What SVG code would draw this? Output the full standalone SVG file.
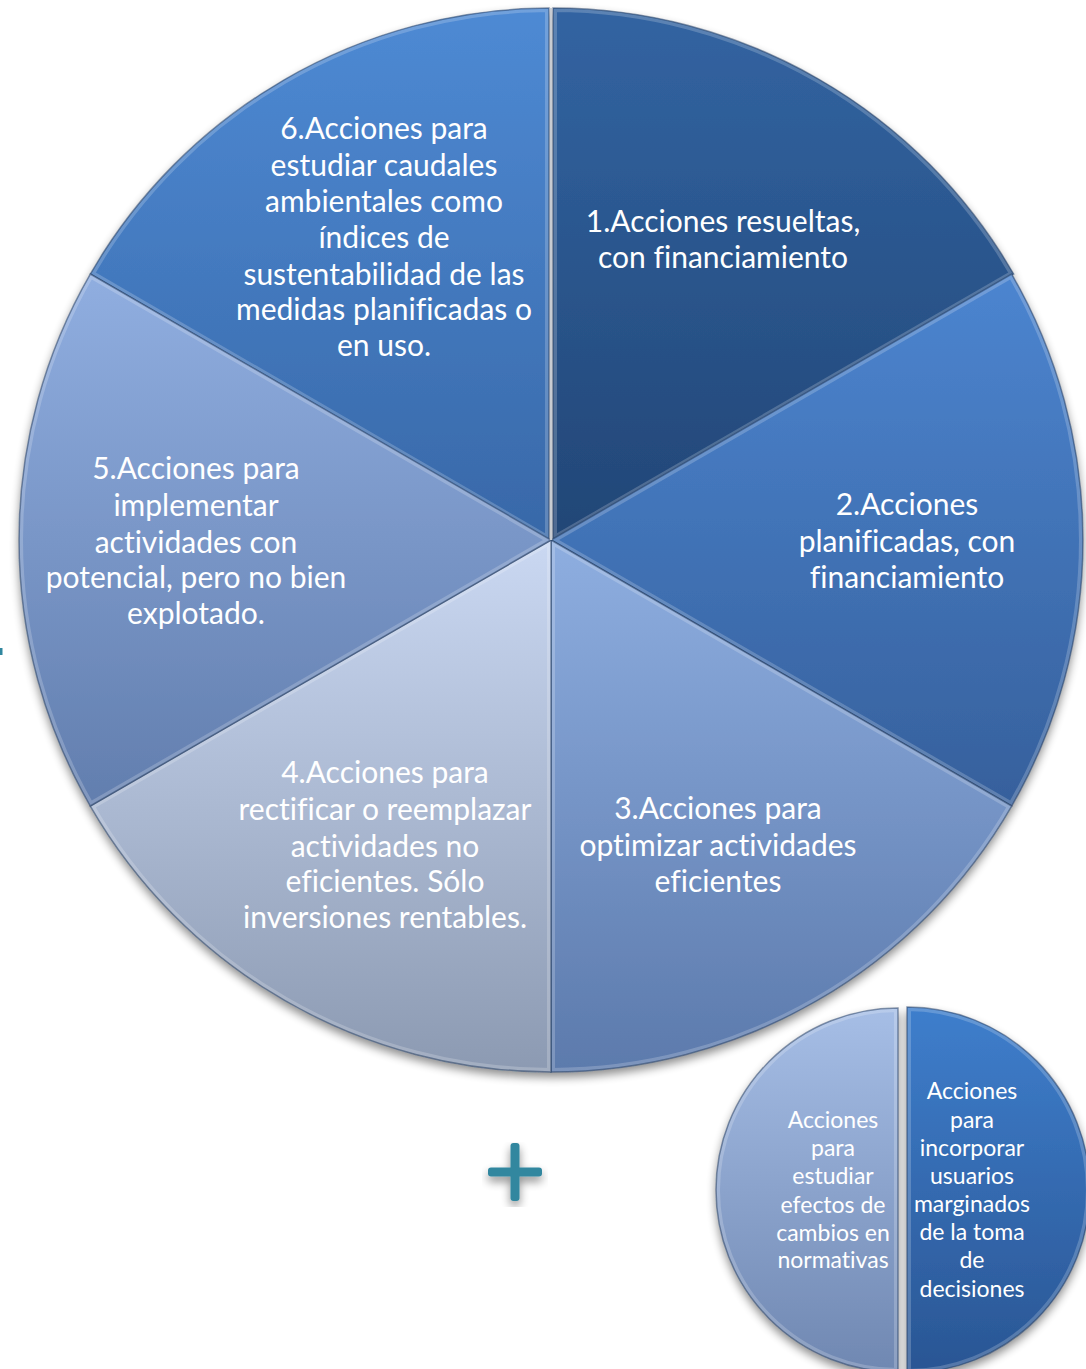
<svg xmlns="http://www.w3.org/2000/svg" width="1086" height="1369" viewBox="0 0 1086 1369">
<style>
.t{font-family:Lato,"Open Sans","Liberation Sans",sans-serif;fill:#ffffff;text-anchor:middle;font-size:30px;font-variant-ligatures:none;font-feature-settings:"liga" 0}
.s{font-family:Lato,"Open Sans","Liberation Sans",sans-serif;fill:#ffffff;text-anchor:middle;font-size:23px;font-variant-ligatures:none;font-feature-settings:"liga" 0}
.bev{fill:none;stroke:#ffffff;stroke-opacity:0.2;stroke-width:8}
.edge{fill:none;stroke:#1c355c;stroke-opacity:0.5;stroke-width:1.5}
</style>
<defs>
<filter id="sh" x="-10%" y="-10%" width="120%" height="120%">
<feGaussianBlur in="SourceAlpha" stdDeviation="5"/>
<feOffset dx="0" dy="5" result="b"/>
<feComponentTransfer><feFuncA type="linear" slope="0.45"/></feComponentTransfer>
<feMerge><feMergeNode/><feMergeNode in="SourceGraphic"/></feMerge>
</filter>
<linearGradient id="g1" gradientUnits="userSpaceOnUse" x1="0" y1="8" x2="0" y2="540"><stop offset="0" stop-color="#3264a2"/><stop offset="1" stop-color="#224676"/></linearGradient>
<linearGradient id="g2" gradientUnits="userSpaceOnUse" x1="0" y1="274" x2="0" y2="806"><stop offset="0" stop-color="#4c85d0"/><stop offset="1" stop-color="#36609c"/></linearGradient>
<linearGradient id="g3" gradientUnits="userSpaceOnUse" x1="0" y1="540" x2="0" y2="1072"><stop offset="0" stop-color="#8eaee0"/><stop offset="1" stop-color="#5c7aac"/></linearGradient>
<linearGradient id="g4" gradientUnits="userSpaceOnUse" x1="0" y1="540" x2="0" y2="1072"><stop offset="0" stop-color="#cad8f2"/><stop offset="1" stop-color="#8c9ab2"/></linearGradient>
<linearGradient id="g5" gradientUnits="userSpaceOnUse" x1="0" y1="274" x2="0" y2="806"><stop offset="0" stop-color="#90aee0"/><stop offset="1" stop-color="#627eae"/></linearGradient>
<linearGradient id="g6" gradientUnits="userSpaceOnUse" x1="0" y1="8" x2="0" y2="540"><stop offset="0" stop-color="#4e8ad4"/><stop offset="1" stop-color="#3868a8"/></linearGradient>
<linearGradient id="gL" gradientUnits="userSpaceOnUse" x1="0" y1="1008" x2="0" y2="1369"><stop offset="0" stop-color="#a6bee6"/><stop offset="1" stop-color="#7088b2"/></linearGradient>
<linearGradient id="gR" gradientUnits="userSpaceOnUse" x1="0" y1="1008" x2="0" y2="1369"><stop offset="0" stop-color="#3e7ecc"/><stop offset="1" stop-color="#2a5694"/></linearGradient>
<path id="p1" d="M553,540 L553,8 A532,532 0 0 1 1013.7,274 Z"/>
<path id="p2" d="M551,540 L1011.7,274 A532,532 0 0 1 1011.7,806 Z"/>
<path id="p3" d="M551,540 L1011.7,806 A532,532 0 0 1 551,1072 Z"/>
<path id="p4" d="M551,540 L551,1072 A532,532 0 0 1 90.3,806 Z"/>
<path id="p5" d="M551,540 L90.3,806 A532,532 0 0 1 90.3,274 Z"/>
<path id="p6" d="M549,540 L90.3,274 A532,532 0 0 1 549,8 Z"/>
<path id="pL" d="M898,1008 A182,182 0 0 0 898,1372 Z"/>
<path id="pR" d="M907,1007 A183,183 0 0 1 907,1373 Z"/>
<clipPath id="c1"><use href="#p1"/></clipPath>
<clipPath id="c2"><use href="#p2"/></clipPath>
<clipPath id="c3"><use href="#p3"/></clipPath>
<clipPath id="c4"><use href="#p4"/></clipPath>
<clipPath id="c5"><use href="#p5"/></clipPath>
<clipPath id="c6"><use href="#p6"/></clipPath>
<clipPath id="cL"><use href="#pL"/></clipPath>
<clipPath id="cR"><use href="#pR"/></clipPath>
</defs>
<rect width="1086" height="1369" fill="#ffffff"/>
<g id="pie" filter="url(#sh)">
<g id="node6">
<use href="#p6" fill="url(#g6)"/>
<use href="#p6" class="bev" clip-path="url(#c6)"/>
<use href="#p6" class="edge"/>
</g>
<g id="node1">
<use href="#p1" fill="url(#g1)"/>
<use href="#p1" class="bev" clip-path="url(#c1)"/>
<use href="#p1" class="edge"/>
</g>
<g id="node2">
<use href="#p2" fill="url(#g2)"/>
<use href="#p2" class="bev" clip-path="url(#c2)"/>
<use href="#p2" class="edge"/>
</g>
<g id="node3">
<use href="#p3" fill="url(#g3)"/>
<use href="#p3" class="bev" clip-path="url(#c3)"/>
<use href="#p3" class="edge"/>
</g>
<g id="node4">
<use href="#p4" fill="url(#g4)"/>
<use href="#p4" class="bev" clip-path="url(#c4)"/>
<use href="#p4" class="edge"/>
</g>
<g id="node5">
<use href="#p5" fill="url(#g5)"/>
<use href="#p5" class="bev" clip-path="url(#c5)"/>
<use href="#p5" class="edge"/>
</g>
</g>
<line x1="551" y1="8" x2="551" y2="540" stroke="#c8ccd2" stroke-width="2.5"/>
<g id="labels">
<text class="t" x="384"><tspan x="384" y="139">6.Acciones para</tspan><tspan x="384" y="176">estudiar caudales</tspan><tspan x="384" y="212">ambientales como</tspan><tspan x="384" y="248">índices de</tspan><tspan x="384" y="285">sustentabilidad de las</tspan><tspan x="384" y="320">medidas planificadas o</tspan><tspan x="384" y="356">en uso.</tspan></text>
<text class="t" x="723"><tspan x="723" y="232">1.Acciones resueltas,</tspan><tspan x="723" y="268">con financiamiento</tspan></text>
<text class="t" x="907"><tspan x="907" y="515">2.Acciones</tspan><tspan x="907" y="552">planificadas, con</tspan><tspan x="907" y="588">financiamiento</tspan></text>
<text class="t" x="718"><tspan x="718" y="819">3.Acciones para</tspan><tspan x="718" y="856">optimizar actividades</tspan><tspan x="718" y="892">eficientes</tspan></text>
<text class="t" x="385"><tspan x="385" y="783">4.Acciones para</tspan><tspan x="385" y="820">rectificar o reemplazar</tspan><tspan x="385" y="857">actividades no</tspan><tspan x="385" y="892">eficientes. Sólo</tspan><tspan x="385" y="928">inversiones rentables.</tspan></text>
<text class="t" x="196"><tspan x="196" y="479">5.Acciones para</tspan><tspan x="196" y="516">implementar</tspan><tspan x="196" y="553">actividades con</tspan><tspan x="196" y="588">potencial, pero no bien</tspan><tspan x="196" y="624">explotado.</tspan></text>
</g>
<g id="smallpie" filter="url(#sh)">
<g id="nodeL">
<use href="#pL" fill="url(#gL)"/>
<use href="#pL" class="bev" clip-path="url(#cL)"/>
<use href="#pL" class="edge"/>
</g>
<g id="nodeR">
<use href="#pR" fill="url(#gR)"/>
<use href="#pR" class="bev" clip-path="url(#cR)"/>
<use href="#pR" class="edge"/>
</g>
</g>
<g id="smalllabels">
<text class="s" x="833"><tspan x="833" y="1128">Acciones</tspan><tspan x="833" y="1156">para</tspan><tspan x="833" y="1184">estudiar</tspan><tspan x="833" y="1213">efectos de</tspan><tspan x="833" y="1241">cambios en</tspan><tspan x="833" y="1268">normativas</tspan></text>
<text class="s" x="972"><tspan x="972" y="1099">Acciones</tspan><tspan x="972" y="1128">para</tspan><tspan x="972" y="1156">incorporar</tspan><tspan x="972" y="1184">usuarios</tspan><tspan x="972" y="1212">marginados</tspan><tspan x="972" y="1240">de la toma</tspan><tspan x="972" y="1268">de</tspan><tspan x="972" y="1297">decisiones</tspan></text>
</g>
<g id="plus" filter="url(#sh)" fill="#31879f">
<rect x="488" y="1167.5" width="54" height="9" rx="3"/>
<rect x="510.5" y="1143" width="9" height="58" rx="3"/>
</g>
<rect x="0" y="648" width="2.5" height="7" fill="#31879f"/>
<g id="connectors"/>
</svg>
